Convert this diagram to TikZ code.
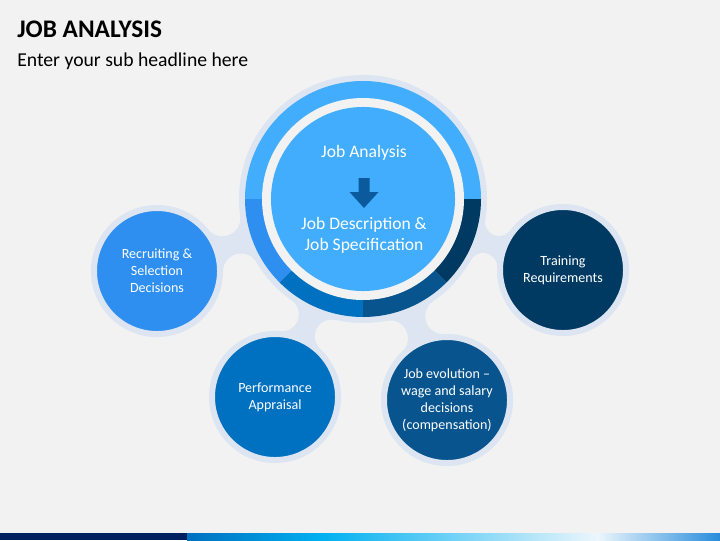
\documentclass[tikz,border=0pt]{standalone}
\usepackage{fontspec}
\setmainfont{Carlito}
\usepackage{tikz}
\usepackage{xcolor}
\usetikzlibrary{calc, positioning}

\definecolor{backc}{HTML}{F2F2F2}
\definecolor{ringc}{HTML}{DCE5F1}
\definecolor{lightc}{HTML}{42ADFD}
\definecolor{medc}{HTML}{2E8FF0}
\definecolor{bluec}{HTML}{0070C0}
\definecolor{darkc}{HTML}{08548F}
\definecolor{navyc}{HTML}{003A63}
\definecolor{arrowc}{HTML}{0B5A9E}
\definecolor{barnavy}{HTML}{002060}
\definecolor{barcyan}{HTML}{00B0F0}
\definecolor{barpale}{HTML}{ECF6FC}
\definecolor{barend}{HTML}{288CDC}

\tikzset{
    sat/.style={circle, minimum size=3.15cm, inner sep=0pt, draw=ringc, line width=0.15cm, text=white, align=center, font=\fontsize{10}{12}\selectfont},
    core/.style={circle, minimum size=4.6cm, inner sep=0pt, fill=lightc},
    hubtext/.style={text=white, align=center, font=\fontsize{12.5}{15}\selectfont},
    neck/.style={fill=ringc},
    fillet/.style={fill=backc}
}

\begin{document}
\begin{tikzpicture}[x=0.025cm, y=-0.025cm]
    \fill[backc] (0,0) rectangle (720,540);
    \useasboundingbox (0,0) rectangle (720,540);

    % titles
    \node[anchor=base west, inner sep=0pt, font=\fontsize{18}{20}\selectfont\bfseries] (title) at (17,37) {JOB ANALYSIS};
    \node[anchor=base west, inner sep=0pt, font=\fontsize{14}{16}\selectfont] (subtitle) at (17,66) {Enter your sub headline here};

    % centres
    \coordinate (hub) at (363,199);
    \coordinate (recruitc) at (157,271);
    \coordinate (trainc) at (563,270);
    \coordinate (perfc) at (275,397);
    \coordinate (evolc) at (447,400);

    % fillet centres
    \coordinate (f1a) at (241.0,271.6);
    \coordinate (f1b) at (222.3,218.2);
    \coordinate (f2a) at (499.1,221.9);
    \coordinate (f2b) at (483.1,267.0);
    \coordinate (f3a) at (331.9,336.5);
    \coordinate (f3b) at (281.8,314.3);
    \coordinate (f4a) at (443.3,316.1);
    \coordinate (f4b) at (389.9,338.4);

    % necks
    \fill[neck] (recruitc) -- (f1a) -- (hub) -- (f1b) -- cycle;
    \fill[neck] (trainc) -- (f2a) -- (hub) -- (f2b) -- cycle;
    \fill[neck] (perfc) -- (f3a) -- (hub) -- (f3b) -- cycle;
    \fill[neck] (evolc) -- (f4a) -- (hub) -- (f4b) -- cycle;
    \fill[fillet] (f1a) circle (18);
    \fill[fillet] (f1b) circle (18);
    \fill[fillet] (f2a) circle (14);
    \fill[fillet] (f2b) circle (14);
    \fill[fillet] (f3a) circle (17);
    \fill[fillet] (f3b) circle (17);
    \fill[fillet] (f4a) circle (18);
    \fill[fillet] (f4b) circle (18);

    % hub ring
    \fill[ringc] (hub) circle (124);
    \fill[lightc] (hub) -- ++(0:118) arc[start angle=0, end angle=-180, radius=118] -- cycle;
    \fill[medc] (hub) -- ++(180:118) arc[start angle=180, end angle=135, radius=118] -- cycle;
    \fill[bluec] (hub) -- ++(135:118) arc[start angle=135, end angle=90, radius=118] -- cycle;
    \fill[darkc] (hub) -- ++(90:118) arc[start angle=90, end angle=45, radius=118] -- cycle;
    \fill[navyc] (hub) -- ++(45:118) arc[start angle=45, end angle=0, radius=118] -- cycle;
    \fill[backc] (hub) circle (101);
    \node[core] (core) at (hub) {};

    \node[hubtext] (jobanalysis) at (364,153) {Job Analysis};
    \fill[arrowc] (358.5,178) -- (369.5,178) -- (369.5,192) -- (378.5,192) -- (364,208) -- (349.5,192) -- (358.5,192) -- cycle;
    \node[hubtext] (jobdesc) at (364,235) {Job Description \&\\Job Specification};

    % satellites
    \node[sat, fill=medc] (recruit) at (recruitc) {Recruiting \&\\Selection\\Decisions};
    \node[sat, fill=navyc] (train) at (trainc) {Training\\Requirements};
    \node[sat, fill=bluec] (perf) at (perfc) {Performance\\Appraisal};
    \node[sat, fill=darkc] (evol) at (evolc) {Job evolution --\\wage and salary\\decisions\\(compensation)};

    % bottom bar
    \fill[barnavy] (0,533) rectangle (187,540);
    \shade[left color=bluec, right color=barcyan] (187,533) rectangle (321,540);
    \shade[left color=barcyan, right color=barpale] (321,533) rectangle (597,540);
    \shade[left color=barpale, right color=barend] (597,533) rectangle (720,540);
\end{tikzpicture}
\end{document}
